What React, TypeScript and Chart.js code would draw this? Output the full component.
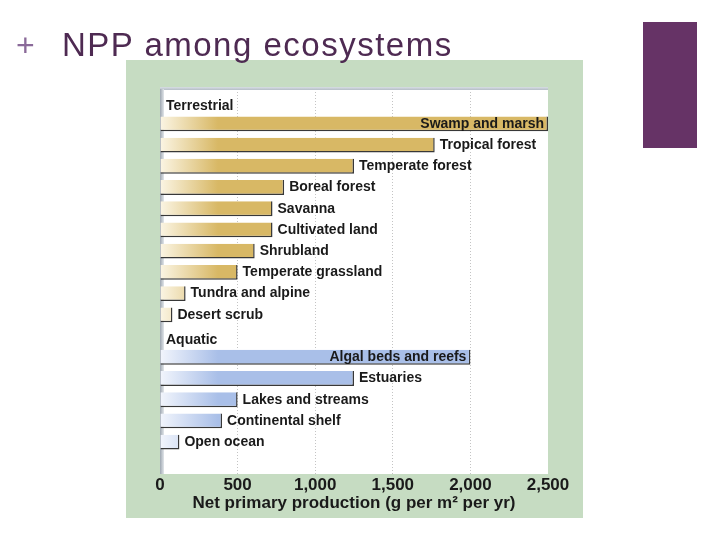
import React, { useEffect, useRef } from "react";
import { Chart, registerables } from "chart.js";

Chart.register(...registerables);

const slideTitle = "NPP among ecosystems";
const groupHeaders = ["Terrestrial", "Aquatic"];
const terrestrialNames = [
  "Swamp and marsh",
  "Tropical forest",
  "Temperate forest",
  "Boreal forest",
  "Savanna",
  "Cultivated land",
  "Shrubland",
  "Temperate grassland",
  "Tundra and alpine",
  "Desert scrub",
];
const terrestrialValues = [2500, 1770, 1250, 800, 725, 725, 610, 500, 165, 80];
const aquaticNames = [
  "Algal beds and reefs",
  "Estuaries",
  "Lakes and streams",
  "Continental shelf",
  "Open ocean",
];
const aquaticValues = [2000, 1250, 500, 400, 125];
const xTicks = [0, 500, 1000, 1500, 2000, 2500];
const xAxisTitle = "Net primary production (g per m\u00B2 per yr)";

const FONT = '"Liberation Sans", Arial, sans-serif';

export default function App() {
  const ref = useRef<HTMLCanvasElement>(null);

  useEffect(() => {
    const labels = [groupHeaders[0], ...terrestrialNames, groupHeaders[1], ...aquaticNames, ""];
    const data: (number | null)[] = [null, ...terrestrialValues, null, ...aquaticValues, null];
    const aquaticStart = terrestrialNames.length + 2;
    const headerIdx = [0, terrestrialNames.length + 1];

    const decor = {
      id: "decor",
      beforeDraw(chart: any) {
        const { ctx, chartArea: a } = chart;
        ctx.save();
        ctx.fillStyle = "#c6dcc2";
        ctx.fillRect(126, 60, 457, 458);
        ctx.fillStyle = "#ffffff";
        ctx.fillRect(a.left, a.top - 5, a.right - a.left, a.bottom - a.top + 5);
        const g = ctx.createLinearGradient(0, a.top - 5, 0, a.top - 1);
        g.addColorStop(0, "#d8dee4");
        g.addColorStop(1, "#aab3bd");
        ctx.fillStyle = g;
        ctx.fillRect(a.left, a.top - 5, a.right - a.left, 3);
        ctx.restore();
      },
      beforeDatasetsDraw(chart: any) {
        const { ctx, chartArea: a } = chart;
        ctx.save();
        const g = ctx.createLinearGradient(a.left, 0, a.left + 4, 0);
        g.addColorStop(0, "#9ea7b1");
        g.addColorStop(1, "#e2e6ea");
        ctx.fillStyle = g;
        ctx.fillRect(a.left, a.top - 3, 4, a.bottom - a.top + 3);
        ctx.restore();
      },
      afterDatasetsDraw(chart: any) {
        const { ctx, chartArea: a } = chart;
        const meta = chart.getDatasetMeta(0);
        const yScale = chart.scales.y;
        ctx.save();
        ctx.fillStyle = "#1a1a1a";
        ctx.textBaseline = "middle";
        ctx.font = `bold 14px ${FONT}`;
        meta.data.forEach((bar: any, i: number) => {
          const v = data[i];
          if (v == null) return;
          const text = labels[i];
          const w = ctx.measureText(text).width;
          if (bar.x + 5 + w > a.right) {
            ctx.textAlign = "right";
            ctx.fillText(text, bar.x - 4, bar.y);
          } else {
            ctx.textAlign = "left";
            ctx.fillText(text, bar.x + 5, bar.y);
          }
        });
        ctx.textAlign = "left";
        headerIdx.forEach((idx) => {
          ctx.fillText(labels[idx], a.left + 6, yScale.getPixelForValue(idx) + 4);
        });
        ctx.restore();
      },
    };

    const chart = new Chart(ref.current!, {
      type: "bar",
      data: {
        labels,
        datasets: [
          {
            data,
            backgroundColor: (c: any) => {
              const area = c.chart.chartArea;
              const aq = c.dataIndex >= aquaticStart;
              const solid = aq ? "#a9bfe8" : "#d8b865";
              if (!area) return solid;
              const g = c.chart.ctx.createLinearGradient(area.left, 0, area.left + 58, 0);
              g.addColorStop(0, aq ? "#f2f5fc" : "#fbf5e4");
              g.addColorStop(1, solid);
              return g;
            },
            borderColor: "#383838",
            borderWidth: { top: 0, left: 0, right: 1.5, bottom: 1.5 },
            borderSkipped: false,
            categoryPercentage: 1,
            barPercentage: 0.7,
          },
        ],
      },
      options: {
        indexAxis: "y",
        responsive: false,
        devicePixelRatio: 1,
        animation: false,
        events: [],
        layout: { padding: { left: 160, right: 172, top: 92, bottom: 0 } },
        plugins: {
          legend: { display: false },
          tooltip: { enabled: false },
          title: { display: false },
        },
        scales: {
          y: { type: "category", display: false },
          x: {
            type: "linear",
            min: 0,
            max: 2500,
            afterBuildTicks: (s: any) => {
              s.ticks = xTicks.map((v) => ({ value: v }));
            },
            afterFit: (s: any) => {
              s.height = 66;
            },
            grid: {
              drawTicks: false,
              color: (c: any) =>
                c.tick && (c.tick.value === 0 || c.tick.value === 2500) ? "rgba(0,0,0,0)" : "#c4c4c4",
              lineWidth: 1,
            },
            border: { display: false, dash: [1, 2] },
            ticks: {
              padding: 1,
              color: "#1a1a1a",
              font: { family: FONT, size: 17, weight: "bold" },
              callback: (v: any) => Number(v).toLocaleString("en-US"),
              maxRotation: 0,
            },
            title: {
              display: true,
              text: xAxisTitle,
              color: "#1a1a1a",
              font: { family: FONT, size: 17, weight: "bold" },
              padding: { top: 0, bottom: 26 },
            },
          },
        },
      },
      plugins: [decor],
    } as any);
    return () => chart.destroy();
  }, []);

  return (
    <div style={{ position: "absolute", left: 0, top: 0, width: 720, height: 540, background: "#ffffff", overflow: "hidden" }}>
      <canvas ref={ref} width={720} height={540} style={{ position: "absolute", left: 0, top: 0, width: 720, height: 540 }} />
      <div style={{ position: "absolute", left: 16, top: 29, fontFamily: FONT, fontSize: 32, lineHeight: "32px", color: "#8a6a99", whiteSpace: "nowrap" }}>+</div>
      <div style={{ position: "absolute", left: 62, top: 28, fontFamily: FONT, fontSize: 33, lineHeight: "33px", letterSpacing: "1.5px", color: "#4e2a52", whiteSpace: "nowrap" }}>{slideTitle}</div>
      <div style={{ position: "absolute", left: 643, top: 22, width: 54, height: 126, background: "#663366" }} />
    </div>
  );
}
